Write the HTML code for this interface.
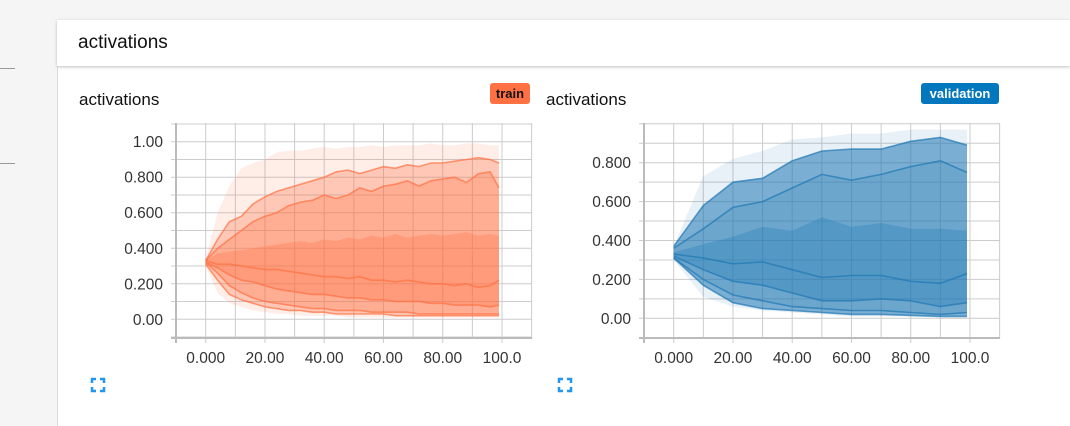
<!DOCTYPE html>
<html><head><meta charset="utf-8">
<style>
body{margin:0;width:1070px;height:426px;background:#f5f5f5;font-family:"Liberation Sans",sans-serif;position:relative;overflow:hidden}
.abs{position:absolute}
</style></head><body>
<div class="abs" style="left:0;top:68px;width:15px;height:1px;background:#999"></div>
<div class="abs" style="left:0;top:163px;width:15px;height:1px;background:#999"></div>
<div class="abs" style="left:57px;top:66px;width:1013px;height:360px;background:#fff;border-left:1px solid #ddd"></div>
<div class="abs" style="left:57px;top:20px;width:1013px;height:46px;background:#fff;box-shadow:0 1px 3px rgba(0,0,0,0.25)"></div>
<div class="abs" style="left:78px;top:32px;font-size:19px;color:#111">activations</div>
<div class="abs" style="left:79px;top:90px;font-size:17px;color:#111">activations</div>
<div class="abs" style="left:546px;top:90px;font-size:17px;color:#111">activations</div>
<div class="abs" style="left:490px;top:83px;width:40px;height:21px;background:#ff7043;border-radius:3px;font-size:13px;font-weight:bold;color:#111;text-align:center;line-height:21px">train</div>
<div class="abs" style="left:921px;top:83px;width:78px;height:21px;background:#0277bd;border-radius:3px;font-size:13px;font-weight:bold;color:#fff;text-align:center;line-height:21px">validation</div>
<svg class="abs" style="left:0;top:0" width="1070" height="426" id="svg"></svg>
<script>
const trainSteps=[0,4,8,12,16,20,24,28,32,36,40,44,48,52,56,60,64,68,72,76,80,84,88,92,96,99];
const trainMax=[0.34,0.60,0.75,0.85,0.88,0.90,0.94,0.95,0.95,0.96,0.97,0.96,0.97,0.97,0.98,0.97,0.98,0.98,0.98,0.99,0.98,0.98,0.99,0.99,0.98,0.98];
const trainP93=[0.33,0.45,0.55,0.58,0.65,0.69,0.72,0.74,0.76,0.78,0.80,0.83,0.84,0.82,0.84,0.86,0.85,0.87,0.86,0.88,0.88,0.89,0.90,0.91,0.90,0.88];
const trainP84=[0.33,0.40,0.45,0.50,0.55,0.58,0.60,0.64,0.66,0.67,0.70,0.68,0.70,0.74,0.72,0.75,0.76,0.78,0.75,0.78,0.79,0.80,0.77,0.82,0.83,0.74];
const trainP69=[0.33,0.37,0.38,0.39,0.40,0.41,0.42,0.43,0.44,0.43,0.45,0.44,0.46,0.45,0.47,0.46,0.48,0.46,0.47,0.48,0.47,0.48,0.49,0.47,0.48,0.47];
const trainP50=[0.33,0.31,0.31,0.30,0.29,0.28,0.28,0.27,0.26,0.25,0.24,0.24,0.23,0.24,0.22,0.22,0.21,0.22,0.21,0.20,0.20,0.19,0.20,0.18,0.19,0.22];
const trainP31=[0.32,0.29,0.25,0.22,0.21,0.19,0.17,0.16,0.15,0.14,0.14,0.13,0.12,0.12,0.11,0.11,0.10,0.10,0.10,0.09,0.09,0.08,0.08,0.08,0.07,0.08];
const trainP16=[0.32,0.26,0.19,0.15,0.12,0.10,0.09,0.08,0.07,0.06,0.06,0.05,0.05,0.05,0.04,0.04,0.04,0.04,0.03,0.03,0.03,0.03,0.03,0.03,0.03,0.03];
const trainP7=[0.31,0.22,0.14,0.11,0.09,0.07,0.06,0.05,0.05,0.04,0.04,0.03,0.03,0.03,0.03,0.03,0.02,0.02,0.02,0.02,0.02,0.02,0.02,0.02,0.02,0.02];
const trainMin=[0.30,0.15,0.09,0.07,0.05,0.04,0.03,0.03,0.02,0.02,0.02,0.02,0.01,0.01,0.01,0.01,0.01,0.01,0.01,0.01,0.01,0.01,0.01,0.01,0.01,0.01];

const valSteps=[0,10,20,30,40,50,60,70,80,90,99];
const valMax=[0.37,0.73,0.82,0.86,0.92,0.93,0.95,0.95,0.97,0.97,0.97];
const valP93=[0.37,0.58,0.70,0.72,0.81,0.86,0.87,0.87,0.91,0.93,0.89];
const valP84=[0.36,0.46,0.57,0.60,0.67,0.74,0.71,0.74,0.78,0.81,0.75];
const valP69=[0.34,0.38,0.42,0.47,0.45,0.52,0.47,0.49,0.46,0.46,0.45];
const valP50=[0.33,0.31,0.28,0.29,0.25,0.21,0.22,0.22,0.19,0.18,0.23];
const valP31=[0.32,0.25,0.19,0.17,0.13,0.09,0.09,0.10,0.09,0.06,0.08];
const valP16=[0.31,0.20,0.12,0.09,0.06,0.05,0.04,0.04,0.03,0.02,0.03];
const valP7=[0.31,0.17,0.08,0.05,0.04,0.03,0.02,0.02,0.015,0.01,0.01];
const valMin=[0.30,0.11,0.06,0.04,0.03,0.02,0.01,0.01,0.01,0.005,0.005];

const xTicks=[0,20,40,60,80,100];
const xTickLabels=["0.000","20.00","40.00","60.00","80.00","100.0"];
const trainYTicks=[0,0.2,0.4,0.6,0.8,1.0];
const trainYLabels=["0.00","0.200","0.400","0.600","0.800","1.00"];
const valYTicks=[0,0.2,0.4,0.6,0.8];
const valYLabels=["0.00","0.200","0.400","0.600","0.800"];

const NS="http://www.w3.org/2000/svg";
const svg=document.getElementById('svg');
function mk(t,a){const e=document.createElementNS(NS,t);for(const k in a)e.setAttribute(k,a[k]);svg.appendChild(e);return e;}

function chart(cfg){
  const {left,right,top,bottom,x0,x100,y0,yPerUnit,color,steps,bands,lines,yT,yL,prefix}=cfg;
  const sx=v=>x0+(x100-x0)*v/100;
  const sy=v=>y0-v*yPerUnit;
  for(let v=-10;v<=110;v+=10){const x=sx(v);if(x<left-0.5||x>right+0.5)continue;
    const g=mk('line',{x1:x,x2:x,y1:top,y2:bottom+(v%20===0?5:0),stroke:'#ccc','stroke-width':1});
    }
  for(let v=-0.1;v<=1.15;v+=0.1){const y=sy(v);if(y<top-0.5||y>bottom+0.5)continue;
    const g=mk('line',{x1:left-5,x2:right,y1:y,y2:y,stroke:'#ccc','stroke-width':1});
    }
  const ax=mk('line',{x1:left,x2:left,y1:top,y2:bottom+5,stroke:'#bbb','stroke-width':2});
  
  const bx=mk('line',{x1:left-5,x2:right,y1:bottom,y2:bottom,stroke:'#bbb','stroke-width':2});
  
  bands.forEach(([hi,lo,op],i)=>{
    let d='';steps.forEach((s,j)=>{d+=(j?'L':'M')+sx(s).toFixed(1)+','+sy(hi[j]).toFixed(1);});
    for(let j=steps.length-1;j>=0;j--)d+='L'+sx(steps[j]).toFixed(1)+','+sy(lo[j]).toFixed(1);
    const p=mk('path',{d:d+'Z',fill:color,'fill-opacity':op});
    
  });
  lines.forEach((arr,i)=>{
    let d='';steps.forEach((s,j)=>{d+=(j?'L':'M')+sx(s).toFixed(1)+','+sy(arr[j]).toFixed(1);});
    const p=mk('path',{d:d,fill:'none',stroke:color,'stroke-width':1.6,'stroke-opacity':0.7});
    
  });
  xTicks.forEach((v,i)=>{const t=mk('text',{x:sx(v),y:bottom+25,'text-anchor':'middle','font-size':15.5,fill:'#333'});t.textContent=xTickLabels[i];
    });
  yT.forEach((v,i)=>{const t=mk('text',{x:left-13,y:sy(v)+5.5,'text-anchor':'end','font-size':15.5,fill:'#333'});t.textContent=yL[i];
    });
}
chart({left:176,right:532,top:123,bottom:338,x0:205.7,x100:502,y0:319.3,yPerUnit:177.6,color:'#ff7043',steps:trainSteps,
  bands:[[trainMax,trainMin,0.12],[trainP93,trainP7,0.3],[trainP84,trainP16,0.3],[trainP69,trainP31,0.3]],
  lines:[trainP93,trainP84,trainP50,trainP31,trainP16,trainP7],yT:trainYTicks,yL:trainYLabels,prefix:'train'});
chart({left:644,right:1000,top:123,bottom:338,x0:673.7,x100:970,y0:318.3,yPerUnit:194.5,color:'#1f77b4',steps:valSteps,
  bands:[[valMax,valMin,0.1],[valP93,valP7,0.55],[valP84,valP16,0.15],[valP69,valP31,0.3]],
  lines:[valP93,valP84,valP50,valP31,valP16,valP7],yT:valYTicks,yL:valYLabels,prefix:'validation'});
function expand(x,y,name){
  const d=`M${x},${y+4}V${y}H${x+4}M${x+8},${y}H${x+12}V${y+4}M${x+12},${y+8}V${y+12}H${x+8}M${x+4},${y+12}H${x}V${y+8}`;
  const p=mk('path',{d:d,fill:'none',stroke:'#2196f3','stroke-width':2.5});
  
}
expand(92,379,'train-expand-button');
expand(559,379,'validation-expand-button');
</script>
</body></html>
